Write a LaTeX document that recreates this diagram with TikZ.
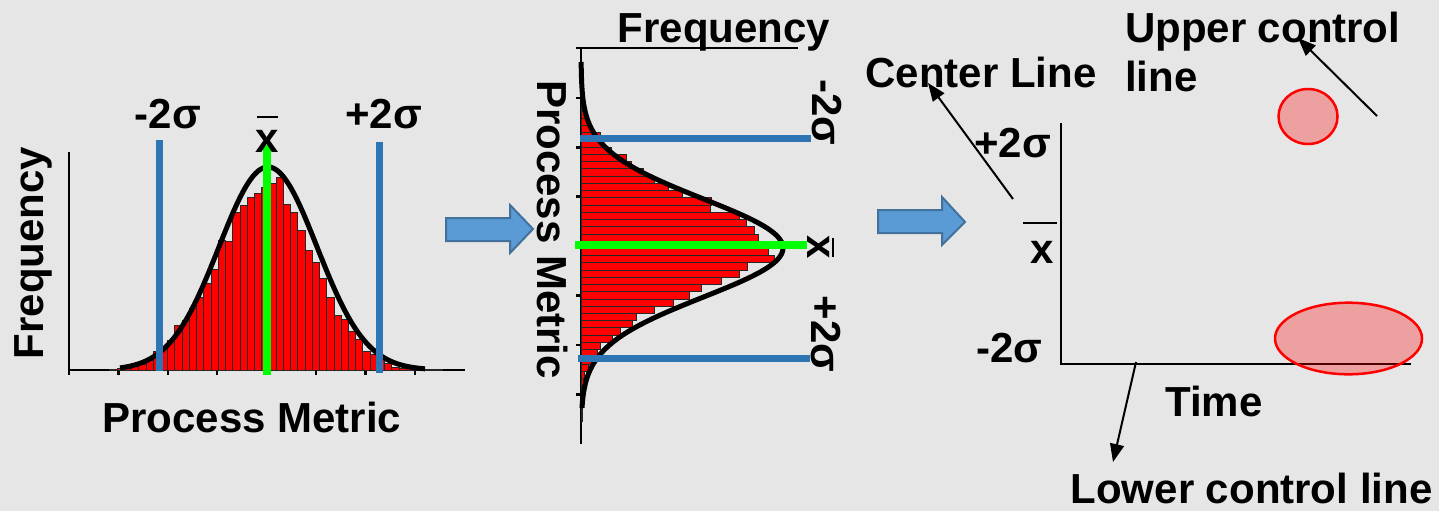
\documentclass[tikz,border=0pt]{standalone}
\usepackage{fontspec}
\setmainfont{Liberation Sans}
\usetikzlibrary{arrows.meta}
\definecolor{bg}{RGB}{230,230,230}
\definecolor{sblue}{RGB}{46,117,182}
\definecolor{afill}{RGB}{91,155,213}
\definecolor{aedge}{RGB}{65,113,156}
\definecolor{lgreen}{RGB}{0,255,0}
\begin{document}
\begin{tikzpicture}[x=1pt,y=-1pt,
  lbl/.style={font=\fontsize{42}{50}\selectfont\bfseries, inner sep=0pt, outer sep=0pt, anchor=base},
  lblw/.style={lbl, anchor=base west},
  axis/.style={line width=1.5pt, black},
  tick/.style={line width=2.5pt, black},
  barst/.style={fill=red, draw=black!85, line width=1pt},
  curve/.style={line width=5pt, black, line join=round},
  sdline/.style={line width=7pt, sblue},
  mline/.style={line width=8pt, lgreen},
  blk/.style={fill=afill, draw=aedge, line width=2pt, line join=miter},
  ptr/.style={line width=2pt, black, -{Triangle[length=18pt,width=14pt]}},
  raxis/.style={line width=2pt, black},
  blob/.style={draw=red, line width=2.5pt, fill=red, fill opacity=0.3},
  xbar/.style={line width=2pt, black}]
\useasboundingbox (0,0) rectangle (1439,511);
\fill[bg] (0,0) rectangle (1439,511);
\def\hts{1,2,2,4,6,10,19,22,30,45,50,62,73,87,101,130,129,158,165,173,177,183,187,193,166,158,140,120,108,92,73,55,51,39,31,19,16,13,7,3,2,2,1,1,1,1}
% ---------- left histogram ----------
\draw[axis] (69,152) -- (69,370) -- (465,370);
\foreach \t in {69,118.4,167.8,217.2,266.6,316,365.4,414.8}
  \draw[tick] (\t,370) -- (\t,375);
\foreach \h [count=\i from 0] in \hts
  \draw[barst] ({109.9+7.23*\i},370) rectangle ({109.9+7.23*(\i+1)},{370-\h});
\draw[curve] plot[domain=120:425,samples=120,smooth] (\x,{370-203*exp(-0.5*((\x-268)/49)*((\x-268)/49))});
\draw[sdline] (159,140) -- (159,371);
\draw[sdline] (379,142) -- (379,373);
\draw[mline] (267,145) -- (267,375);
\node[lbl, rotate=90] (lfreq) at (43,253) {Frequency};
\node[lbl] (lm2) at (168,128) {-2σ};
\node[lbl] (lp2) at (383.5,128) {+2σ};
\node[lbl] (lx) at (267,152) {x};
\draw[xbar] (257,117) -- (278,117);
\node[lbl] (lpm) at (252,432) {Process Metric};
% ---------- arrow 1 ----------
\draw[blk] (446,218) -- (510,218) -- (510,205) -- (533,229) -- (510,253) -- (510,241) -- (446,241) -- cycle;
% ---------- middle histogram ----------
\draw[axis] (798,48) -- (581,48) -- (581,444);
\foreach \t in {48,97.9,147.3,196.7,246.1,295.5,344.9,394.3}
  \draw[tick] (581,\t) -- (576,\t);
\foreach \h [count=\i from 0] in \hts
  \draw[barst] (581,{89.4+7.23*\i}) rectangle ({581+\h},{89.4+7.23*(\i+1)});
\draw[curve] plot[domain=62:408,samples=120,smooth] ({581+202*exp(-0.5*((\x-248)/49)*((\x-248)/49))},\x);
\draw[sdline] (580,138) -- (811,138);
\draw[sdline] (578,358) -- (810,358);
\draw[mline] (575,245) -- (807,245);
\node[lbl] (mfreq) at (724,42) {Frequency};
\node[lbl, rotate=-90] (mpm) at (537,229.5) {Process Metric};
\node[lbl, rotate=-90] (mm2) at (812,112.5) {-2σ};
\node[lbl, rotate=-90] (mp2) at (811,334) {+2σ};
\node[lbl, rotate=-90] (mx) at (807,247.5) {x};
\draw[xbar] (833,238) -- (833,257);
% ---------- arrow 2 ----------
\draw[blk] (878,210) -- (942,210) -- (942,197) -- (965,222) -- (942,245) -- (942,233) -- (878,233) -- cycle;
% ---------- control chart ----------
\draw[raxis] (1061,123) -- (1061,364) -- (1411,364);
\draw[blob] (1308,116.5) ellipse [x radius=29.5, y radius=27.5];
\draw[blob] (1348.5,338.5) ellipse [x radius=73.5, y radius=35.8];
\node[lblw] (cl) at (865.5,87) {Center Line};
\node[lblw] (ucl1) at (1125,42) {Upper control};
\node[lblw] (ucl2) at (1125,92) {line};
\node[lbl] (rp2) at (1012.5,157) {+2σ};
\node[lbl] (rx) at (1042.5,263) {x};
\draw[xbar] (1023,222.5) -- (1057,222.5);
\node[lbl] (rm2) at (1009.5,362) {-2σ};
\node[lbl] (time) at (1214,416.5) {Time};
\node[lbl] (lcl) at (1251.5,503) {Lower control line};
\coordinate (clS) at (1013,199);
\coordinate (clT) at (928,83);
\coordinate (uclS) at (1377,116);
\coordinate (uclT) at (1298,38);
\coordinate (lclS) at (1136,362);
\coordinate (lclT) at (1113,462);
\draw[ptr] (clS) -- (clT);
\draw[ptr] (uclS) -- (uclT);
\draw[ptr] (lclS) -- (lclT);
\end{tikzpicture}
\end{document}
